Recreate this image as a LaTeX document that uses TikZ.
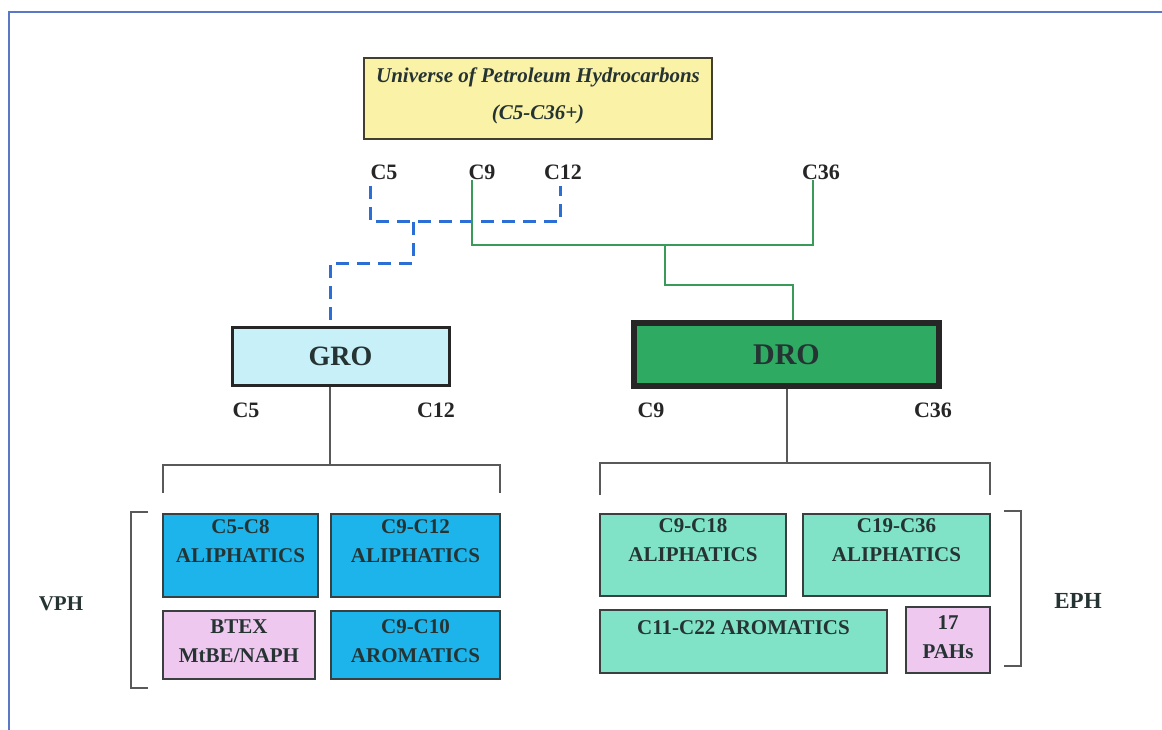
\documentclass[tikz,border=0pt]{standalone}
\usepackage{fontspec}
\setmainfont{Liberation Serif}
\definecolor{frameblue}{HTML}{5A78C8}
\definecolor{dashblue}{HTML}{2B6FD6}
\definecolor{lgreen}{HTML}{3A9A5A}
\definecolor{topfill}{HTML}{FAF2A6}
\definecolor{grofill}{HTML}{C8F0F8}
\definecolor{drofill}{HTML}{2EAA62}
\definecolor{skyfill}{HTML}{1CB4EA}
\definecolor{aquafill}{HTML}{80E2C6}
\definecolor{pinkfill}{HTML}{EEC8EE}
\definecolor{txtc}{HTML}{263333}
\definecolor{bordc}{HTML}{3A3F3F}
\tikzset{
  box/.style={draw=bordc, line width=2.5pt, inner sep=0pt},
  txt/.style={text=txtc, font=\fontsize{21}{29}\selectfont\bfseries, align=center, inner sep=0pt},
  lab/.style={text=black!85, font=\fontsize{22}{24}\selectfont\bfseries, inner sep=0pt},
  bluedash/.style={dashblue, line width=3pt, dash pattern=on 13pt off 8pt},
  gline/.style={lgreen, line width=2pt},
  grayline/.style={black!65, line width=2pt},
}
\begin{document}
\begin{tikzpicture}[x=1pt,y=-1pt]
\useasboundingbox[fill=white] (0,0) rectangle (1162,730);
\draw[frameblue, line width=2.5pt] (1162,12) -- (9,12) -- (9,730);

% top box
\node[box, draw=black!70!olive, line width=2pt, fill=topfill, minimum width=348pt, minimum height=81pt] (top) at (538,98.5) {};
\node[text=txtc, font=\fontsize{21}{37}\selectfont\bfseries\itshape, align=center, inner sep=0pt] (toptxt) at (538,96) {Universe of Petroleum Hydrocarbons\\(C5-C36+)};

% range labels
\node[lab] (lC5) at (384,172) {C5};
\node[lab] (lC9) at (482,172) {C9};
\node[lab] (lC12) at (563,172) {C12};
\node[lab] (lC36) at (821,172) {C36};

% GRO / DRO
\node[box, line width=3pt, draw=black!85, fill=grofill, minimum width=217pt, minimum height=58pt,
  text=txtc, font=\fontsize{28}{30}\selectfont\bfseries] (gro) at (340.5,356) {GRO};
\node[box, line width=6pt, draw=black!85, fill=drofill, minimum width=305pt, minimum height=63pt,
  text=txtc, font=\fontsize{30}{32}\selectfont\bfseries] (dro) at (786.5,354.5) {DRO};

% connectors top
\coordinate (b1) at (370,186);
\coordinate (b2) at (560,186);
\coordinate (g1) at (472,180);
\coordinate (g2) at (813,180);
\draw[bluedash] (b1) -- (370,222) -- (560,222) -- (b2);
\draw[bluedash] (413,222) -- (413,263) -- (330,263) -- (330,263 |- gro.north);
\draw[gline] (g1) -- (472,245) -- (813,245) -- (g2);
\draw[gline] (665,245) -- (665,285) -- (793,285) -- (793,285 |- dro.north);

% sub labels
\node[lab] (sC5) at (246,410) {C5};
\node[lab] (sC12) at (436,410) {C12};
\node[lab] (sC9) at (651,410) {C9};
\node[lab] (sC36) at (933,410) {C36};

% brackets
\draw[grayline] (330,330 |- gro.south) -- (330,465);
\draw[grayline] (163,493) -- (163,465) -- (500,465) -- (500,493);
\draw[grayline] (787,330 |- dro.south) -- (787,463);
\draw[grayline] (600,495) -- (600,463) -- (990,463) -- (990,495);
\draw[grayline] (148,512) -- (131,512) -- (131,688) -- (148,688);
\draw[grayline] (1004,511) -- (1021,511) -- (1021,666) -- (1004,666);

\node[text=txtc, font=\fontsize{21}{24}\selectfont\bfseries, inner sep=0pt] (vph) at (61,604) {VPH};
\node[text=txtc, font=\fontsize{23}{24}\selectfont\bfseries, inner sep=0pt] (eph) at (1078,601) {EPH};

% left boxes
\node[box, fill=skyfill, minimum width=155pt, minimum height=83pt] (v1) at (240.5,555.5) {};
\node[txt] (v1t) at (240.5,541.5) {C5-C8\\ALIPHATICS};
\node[box, fill=skyfill, minimum width=169pt, minimum height=83pt] (v2) at (415.5,555.5) {};
\node[txt] (v2t) at (415.5,541.5) {C9-C12\\ALIPHATICS};
\node[box, fill=pinkfill, minimum width=152pt, minimum height=68pt] (v3) at (239,645) {};
\node[txt] (v3t) at (239,641.5) {BTEX\\MtBE/NAPH};
\node[box, fill=skyfill, minimum width=169pt, minimum height=68pt] (v4) at (415.5,645) {};
\node[txt] (v4t) at (415.5,641.5) {C9-C10\\AROMATICS};

% right boxes
\node[box, fill=aquafill, minimum width=186pt, minimum height=82pt] (e1) at (693,555) {};
\node[txt] (e1t) at (693,540.5) {C9-C18\\ALIPHATICS};
\node[box, fill=aquafill, minimum width=187pt, minimum height=82pt] (e2) at (896.5,555) {};
\node[txt] (e2t) at (896.5,540.5) {C19-C36\\ALIPHATICS};
\node[box, fill=aquafill, minimum width=287pt, minimum height=63pt] (e3) at (743.5,641.5) {};
\node[txt] (e3t) at (743.5,628) {C11-C22 AROMATICS};
\node[box, fill=pinkfill, minimum width=84pt, minimum height=66pt] (e4) at (948,640) {};
\node[txt] (e4t) at (948,637) {17\\PAHs};
\end{tikzpicture}
\end{document}
